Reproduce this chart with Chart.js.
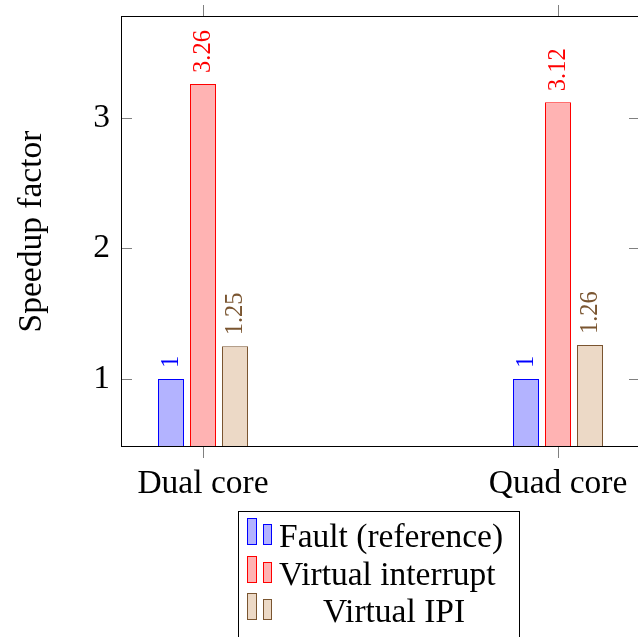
<!DOCTYPE html>
<html>
<head>
<meta charset="utf-8">
<script src="https://cdn.jsdelivr.net/npm/chart.js@4/dist/chart.umd.min.js"></script>
<style>
  body { margin: 0; overflow: hidden; background: #fff; font-family: 'Liberation Serif', serif; }
  #wrap { position: relative; width: 638px; height: 637px; overflow: hidden; }
  #legend { position: absolute; left: 238px; top: 511px; width: 282px; height: 140px;
            border: 1px solid #000; box-sizing: border-box; }
  .row { position: absolute; left: 0; height: 37px; width: 100%; }
  .ico { position: absolute; box-sizing: border-box; border: 1px solid; }
  .txt { position: absolute; left: 40px; width: 230px; font-size: 33.5px; line-height: 37px; white-space: nowrap; }
</style>
</head>
<body>
<div id="wrap">
  <canvas id="speedup" width="642" height="637"></canvas>
  <div id="legend"></div>
</div>
<script>
const categories = ['Dual core', 'Quad core'];
const seriesNames = ['Fault (reference)', 'Virtual interrupt', 'Virtual IPI'];
const faultValues = [1, 1];
const interruptValues = [3.26, 3.12];
const ipiValues = [1.25, 1.26];
const yTicks = [1, 2, 3];

const fills = ['#B3B3FF', '#FFB3B3', '#ECD9C6'];
const strokes = ['#0000FF', '#FF0000', '#7A5530'];
const font = 'Liberation Serif';

// x axis margin on each side, as a share of the distance between the two groups
const xPad = 82 / 355;


function toPoints(values) {
  return values.map((v, i) => ({ x: i, y: v }));
}


// grey tick marks and the black frame, pgfplots style
const framePlugin = {
  id: 'frame',
  afterDraw(chart) {
    const ctx = chart.ctx;
    const a = chart.chartArea;
    const xs = chart.scales.x;
    const ys = chart.scales.y;
    ctx.save();
    ctx.lineWidth = 1;
    ctx.strokeStyle = '#808080';
    ctx.beginPath();
    categories.forEach((_, i) => {
      const px = Math.round(xs.getPixelForValue(i)) + 0.5;
      ctx.moveTo(px, a.top - 11);
      ctx.lineTo(px, a.top);
      ctx.moveTo(px, a.bottom);
      ctx.lineTo(px, a.bottom + 11);
    });
    yTicks.forEach((t) => {
      const py = Math.round(ys.getPixelForValue(t)) + 0.5;
      ctx.moveTo(a.left, py);
      ctx.lineTo(a.left + 11, py);
      ctx.moveTo(a.right - 11, py);
      ctx.lineTo(a.right, py);
    });
    ctx.stroke();
    ctx.strokeStyle = '#000';
    ctx.strokeRect(a.left + 0.5, a.top + 0.5, a.right - a.left - 1, a.bottom - a.top - 1);
    ctx.restore();
  }
};


// rotated value labels on top of the bars
const valueLabels = {
  id: 'valueLabels',
  afterDatasetsDraw(chart) {
    const ctx = chart.ctx;
    ctx.save();
    ctx.font = '24.5px "' + font + '"';
    ctx.textAlign = 'left';
    ctx.textBaseline = 'middle';
    chart.data.datasets.forEach((ds, i) => {
      ctx.fillStyle = strokes[i];
      chart.getDatasetMeta(i).data.forEach((bar, j) => {
        ctx.save();
        ctx.translate(bar.x + 1, bar.y - 11);
        ctx.rotate(-Math.PI / 2);
        ctx.fillText(String(ds.data[j].y), 0, 0);
        ctx.restore();
      });
    });
    ctx.restore();
  }
};


function buildLegend() {
  const legend = document.getElementById('legend');
  seriesNames.forEach((name, i) => {
    const row = document.createElement('div');
    row.className = 'row';
    row.style.top = (6 + i * 37.5) + 'px';
    row.innerHTML =
      '<div class="ico" style="left:8px;top:0px;width:10px;height:27px;"></div>' +
      '<div class="ico" style="left:24px;top:6px;width:9px;height:21px;"></div>' +
      '<div class="txt"></div>';
    row.querySelectorAll('.ico').forEach((el) => {
      el.style.background = fills[i];
      el.style.borderColor = strokes[i];
    });
    const txt = row.querySelector('.txt');
    txt.textContent = name;
    txt.style.top = '-1px';
    txt.style.textAlign = i === 2 ? 'center' : 'left';
    legend.appendChild(row);
  });
}


const allValues = [faultValues, interruptValues, ipiValues];

new Chart('speedup', {
  type: 'bar',
  data: {
    datasets: allValues.map((vals, i) => ({
      label: seriesNames[i],
      data: toPoints(vals),
      backgroundColor: fills[i],
      borderColor: strokes[i],
      borderWidth: 1,
      borderSkipped: false,
      categoryPercentage: 96 / 355,
      barPercentage: 26 / 32
    }))
  },
  options: {
    responsive: false,
    animation: false,
    layout: { padding: { top: 16, right: 2, left: 0, bottom: 0 } },
    plugins: { legend: { display: false }, tooltip: { enabled: false } },
    scales: {
      x: {
        type: 'linear',
        offset: false,
        min: -xPad,
        max: 1 + xPad,
        grid: { display: false, offset: false, drawTicks: false },
        border: { display: false },
        afterBuildTicks: (scale) => { scale.ticks = categories.map((_, i) => ({ value: i })); },
        afterFit: (scale) => {
          scale.height = 190;
          scale.paddingLeft = 0;
          scale.paddingRight = 0;
        },
        ticks: {
          padding: 17,
          maxRotation: 0,
          color: '#000',
          font: { family: font, size: 33.5 },
          callback: (v) => categories[v]
        }
      },
      y: {
        min: 0.479,
        max: 3.78,
        grid: { display: false, drawTicks: false },
        border: { display: false },
        afterBuildTicks: (scale) => { scale.ticks = yTicks.map((t) => ({ value: t })); },
        afterFit: (scale) => {
          scale.width = 121;
          scale.paddingTop = 0;
          scale.paddingBottom = 0;
        },
        title: {
          display: true,
          text: 'Speedup factor',
          color: '#000',
          font: { family: font, size: 33.5 },
          padding: { top: 12, bottom: 0 }
        },
        ticks: {
          padding: 11,
          color: '#000',
          font: { family: font, size: 33.5 }
        }
      }
    }
  },
  plugins: [framePlugin, valueLabels]
});

buildLegend();
</script>
</body>
</html>
